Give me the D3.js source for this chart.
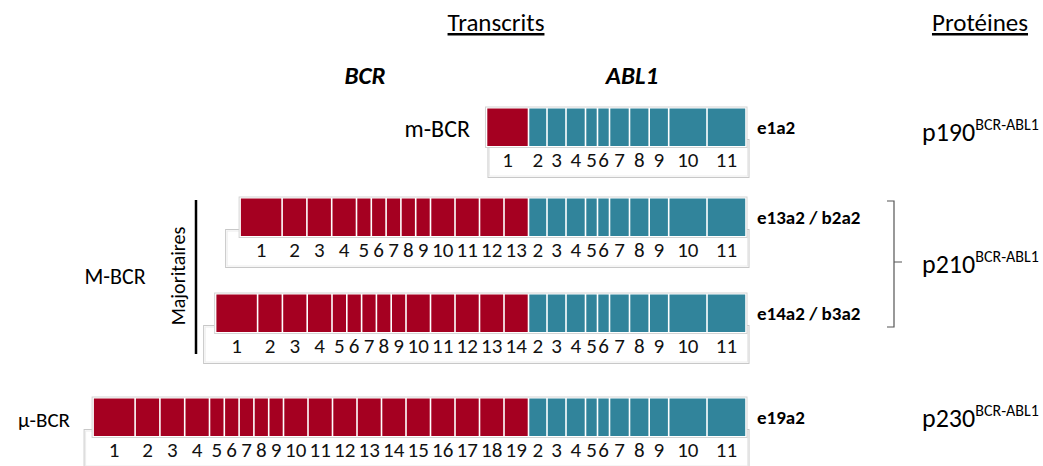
<!DOCTYPE html>
<html>
<head>
<meta charset="utf-8">
<script src="https://cdn.jsdelivr.net/npm/d3@7"></script>
<style>
  body { margin: 0; background: #fff; }
  svg { font-family: Carlito, Lato, "Open Sans", sans-serif; }
</style>
</head>
<body>
<div id="chart"></div>
<script>
// relative exon lengths
var bcrExonLen = [42, 24.8, 24.8, 24.8, 14.8, 14.8, 14.8, 14.8, 14.8, 24.5,
                  24.5, 24.5, 24.5, 24.5, 24.5, 24.5, 24.5, 24.5, 24.5];
var ablExonLen = [18.5, 19, 19.5, 12, 12, 20, 19.7, 19.5, 38.3, 39];
var ablExonNum = [2, 3, 4, 5, 6, 7, 8, 9, 10, 11];

// transcripts
var breakpoints = ["m-BCR", "M-BCR", "M-BCR", "μ-BCR"];
var bcrExonCount = [1, 13, 14, 19];
var transcripts = ["e1a2", "e13a2 / b2a2", "e14a2 / b3a2", "e19a2"];
var proteins = ["p190", "p210", "p230"];
var proteinSup = "BCR-ABL1";

var width = 1043, height = 466;
var red = "#a50021", teal = "#31849b";

// layout
var rowTop = [108, 198, 294, 398];
var boxLeftShift = [1.5, -14.5, -12, -9];
var barH = 38.5;

var svg = d3.select("#chart").append("svg")
  .attr("width", width).attr("height", height);

// position scale: 0 = junction BCR/ABL1
var x = d3.scaleLinear().domain([-500, 250]).range([528.5 - 500, 528.5 + 250]);
var ablTotal = d3.sum(ablExonLen);

function cumulate(lens, start) {
  var out = [], pos = start;
  lens.forEach(function(l, i) { out.push({x0: pos, x1: pos + l, n: i + 1}); pos += l; });
  return out;
}

// headers
svg.append("text").attr("x", 496).attr("y", 31).attr("text-anchor", "middle")
  .style("font-size", "25px").style("text-decoration", "underline").text("Transcrits");
svg.append("text").attr("x", 980).attr("y", 31).attr("text-anchor", "middle")
  .style("font-size", "25px").style("text-decoration", "underline").text("Protéines");
svg.append("text").attr("x", 365).attr("y", 84).attr("text-anchor", "middle")
  .style("font-size", "25px").style("font-weight", "bold").style("font-style", "italic").text("BCR");
svg.append("text").attr("x", 632).attr("y", 84).attr("text-anchor", "middle")
  .style("font-size", "25px").style("font-weight", "bold").style("font-style", "italic").text("ABL1");

bcrExonCount.forEach(function(count, r) {
  var top = rowTop[r], bottom = top + barH;
  var bcrLens = bcrExonLen.slice(0, count);
  var bcrStart = -d3.sum(bcrLens);
  var bcr = cumulate(bcrLens, bcrStart);
  var abl = cumulate(ablExonLen, 0).map(function(d, i) { d.n = ablExonNum[i]; return d; });
  var left = x(bcrStart), right = x(ablTotal);

  var g = svg.append("g").attr("class", "row");

  // lower numbering box (behind the bar)
  var bx = left + boxLeftShift[r], by = bottom - 7, bw = right + 3 - bx, bh = 38;
  g.append("rect").attr("x", bx).attr("y", by).attr("width", bw).attr("height", bh)
    .attr("fill", "#fff").attr("stroke", "#c8c8c8").attr("stroke-width", 1);
  g.append("rect").attr("x", bx + 1.5).attr("y", by + 1.5).attr("width", bw - 3).attr("height", bh - 3)
    .attr("fill", "none").attr("stroke", "#ececec").attr("stroke-width", 1);

  // bar frame
  g.append("rect").attr("x", left - 1).attr("y", top - 1)
    .attr("width", right - left + 2).attr("height", barH + 2)
    .attr("fill", "#fff").attr("stroke", "#d4d4d4").attr("stroke-width", 1);

  g.selectAll("rect.bcr").data(bcr).enter().append("rect").attr("class", "bcr")
    .attr("x", function(d) { return x(d.x0) + 0.8; })
    .attr("y", top + 0.5)
    .attr("width", function(d) { return x(d.x1) - x(d.x0) - 1.6; })
    .attr("height", barH - 1)
    .attr("fill", red);
  g.selectAll("rect.abl").data(abl).enter().append("rect").attr("class", "abl")
    .attr("x", function(d) { return x(d.x0) + 0.8; })
    .attr("y", top + 0.5)
    .attr("width", function(d) { return x(d.x1) - x(d.x0) - 1.6; })
    .attr("height", barH - 1)
    .attr("fill", teal);

  // exon numbers
  g.selectAll("text.num").data(bcr.concat(abl)).enter().append("text").attr("class", "num")
    .attr("x", function(d) { return (x(d.x0) + x(d.x1)) / 2; })
    .attr("y", bottom + 20.5)
    .attr("text-anchor", "middle")
    .style("font-size", "21px").attr("fill", "#111")
    .text(function(d) { return d.n; });

  // transcript name
  g.append("text").attr("x", right + 11).attr("y", top + 26)
    .style("font-size", "19px").style("font-weight", "bold").text(transcripts[r]);
});

// breakpoint labels
svg.append("text").attr("x", 470).attr("y", 137).attr("text-anchor", "end")
  .style("font-size", "24px").text(breakpoints[0]);
svg.append("text").attr("x", 115).attr("y", 284).attr("text-anchor", "middle")
  .style("font-size", "22px").text(breakpoints[1]);
svg.append("text").attr("x", 44).attr("y", 427).attr("text-anchor", "middle")
  .style("font-size", "21px").text(breakpoints[3]);

svg.append("text").attr("transform", "translate(185,276) rotate(-90)")
  .attr("text-anchor", "middle").style("font-size", "20px").text("Majoritaires");
svg.append("line").attr("x1", 196).attr("x2", 196).attr("y1", 200).attr("y2", 354)
  .attr("stroke", "#000").attr("stroke-width", 2.5);

// bracket for p210
svg.append("path")
  .attr("d", "M887,201 H894 V327 H887 M894,262 H902")
  .attr("fill", "none").attr("stroke", "#555").attr("stroke-width", 1.2);

// proteins
var protY = [141, 273, 427];
proteins.forEach(function(p, i) {
  var t = svg.append("text").attr("x", 922).attr("y", protY[i]).style("font-size", "26px");
  t.append("tspan").text(p);
  t.append("tspan").attr("dy", -11).style("font-size", "16px").text(proteinSup);
});
</script>
</body>
</html>
